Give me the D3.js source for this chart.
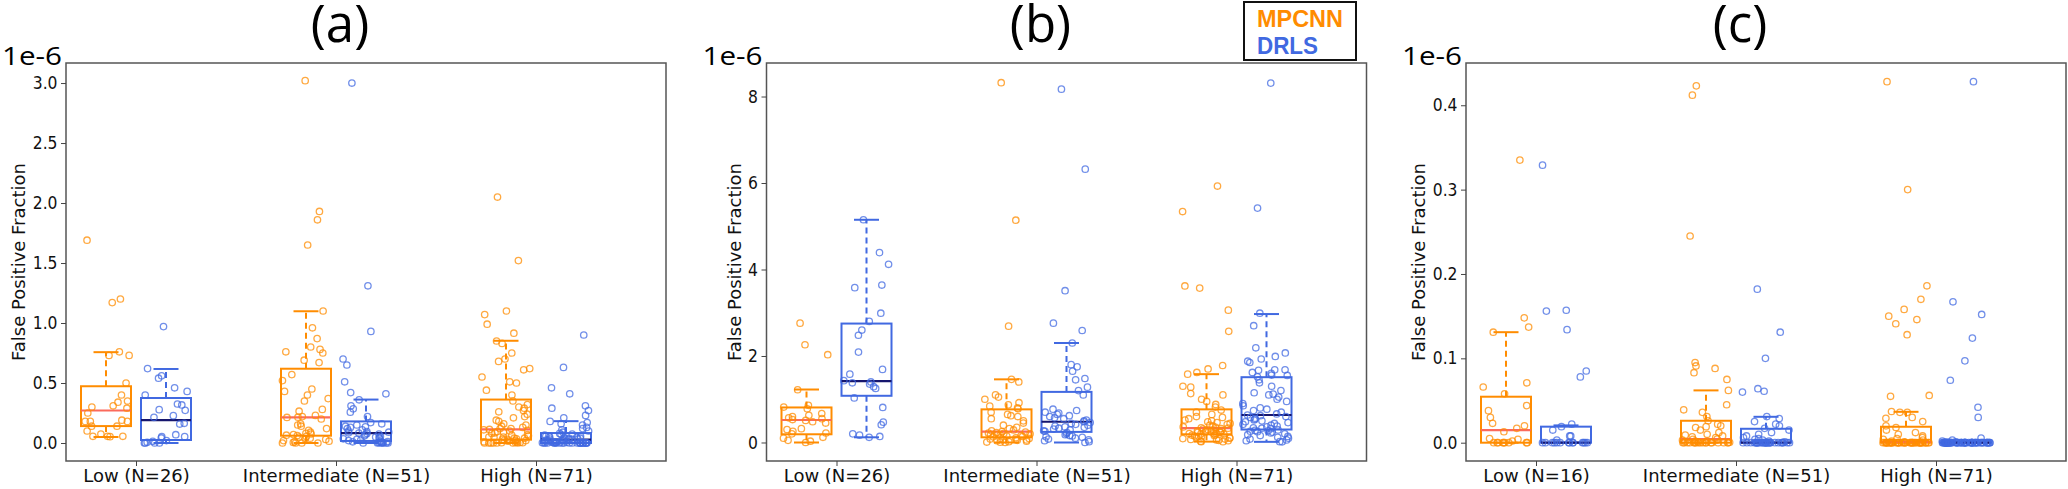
<!DOCTYPE html>
<html><head><meta charset="utf-8">
<script src="https://cdn.jsdelivr.net/npm/d3@7"></script>
<style>body{margin:0;background:#fff}svg{display:block}</style>
</head><body>
<script>
// ---------------- DATA ----------------
const categories = ["Low", "Intermediate", "High"];
const seriesNames = ["MPCNN", "DRLS"];
const panelTitles = ["(a)", "(b)", "(c)"];
const exponentLabel = "1e-6";
const yAxisLabel = "False Positive Fraction";
const xLabelsA = ["Low (N=26)", "Intermediate (N=51)", "High (N=71)"];
const xLabelsB = ["Low (N=26)", "Intermediate (N=51)", "High (N=71)"];
const xLabelsC = ["Low (N=16)", "Intermediate (N=51)", "High (N=71)"];
const yTicksA = [0, 0.5, 1.0, 1.5, 2.0, 2.5, 3.0];
const yTicksB = [0, 2, 4, 6, 8];
const yTicksC = [0, 0.1, 0.2, 0.3, 0.4];
const yDomainA = [-0.15, 3.167];
const yDomainB = [-0.428, 8.775];
const yDomainC = [-0.0217, 0.4501];

// panel (a) values (x 1e-6)
const a_MPCNN_Low = [1.69,1.20,1.17,0.76,0.73,0.73,0.50,0.40,0.35,0.34,0.31,0.30,0.29,0.25,0.19,0.18,0.18,0.18,0.14,0.14,0.10,0.075,0.056,0.056,0.056,0.053];
const a_DRLS_Low = [0.97,0.62,0.56,0.54,0.46,0.43,0.40,0.325,0.317,0.278,0.272,0.228,0.214,0.164,0.158,0.069,0.053,0.053,0.042,0.02,0.014,0.006,0,0,0,0];
const a_MPCNN_Int = [3.02,1.93,1.86,1.65,1.10,0.96,0.87,0.80,0.78,0.76,0.75,0.69,0.67,0.57,0.52,0.45,0.43,0.40,0.37,0.35,0.28,0.265,0.23,0.22,0.215,0.213,0.20,0.16,0.15,0.14,0.12,0.105,0.09,0.08,0.075,0.07,0.065,0.062,0.055,0.05,0.04,0.035,0.03,0.02,0.015,0.01,0.005,0,0,0,0];
const a_DRLS_Int = [3.00,1.31,0.93,0.70,0.65,0.51,0.42,0.41,0.36,0.31,0.285,0.257,0.221,0.17,0.16,0.15,0.14,0.135,0.13,0.12,0.11,0.10,0.095,0.09,0.085,0.083,0.08,0.075,0.07,0.06,0.055,0.05,0.045,0.04,0.035,0.03,0.025,0.02,0.015,0.012,0.01,0.008,0.005,0.003,0.002,0,0,0,0,0,0];
const a_MPCNN_High = [2.05,1.52,1.10,1.07,0.99,0.915,0.85,0.83,0.75,0.70,0.68,0.62,0.61,0.55,0.51,0.50,0.44,0.40,0.35,0.32,0.30,0.29,0.27,0.26,0.24,0.22,0.21,0.19,0.18,0.16,0.15,0.14,0.13,0.12,0.12,0.113,0.11,0.105,0.10,0.095,0.09,0.085,0.08,0.07,0.065,0.06,0.05,0.05,0.045,0.04,0.04,0.035,0.03,0.03,0.025,0.02,0.02,0.015,0.01,0.01,0.005,0.004,0.003,0.002,0,0,0,0,0,0,0];
const a_DRLS_High = [0.90,0.63,0.46,0.41,0.31,0.29,0.27,0.23,0.21,0.18,0.17,0.16,0.15,0.13,0.12,0.11,0.10,0.09,0.08,0.075,0.07,0.065,0.06,0.058,0.055,0.05,0.048,0.045,0.04,0.038,0.035,0.033,0.032,0.03,0.029,0.028,0.025,0.022,0.02,0.018,0.015,0.012,0.01,0.008,0.006,0.005,0.004,0.003,0.002,0.001,0,0,0,0,0,0,0,0,0,0,0,0,0,0,0,0,0,0,0,0,0];

// panel (b) values
const b_MPCNN_Low = [2.76,2.26,2.03,1.22,0.86,0.82,0.78,0.67,0.63,0.60,0.57,0.55,0.53,0.51,0.48,0.45,0.32,0.30,0.26,0.22,0.20,0.12,0.10,0.05,0.03,0.0];
const b_DRLS_Low = [5.15,4.39,4.12,3.64,3.58,2.99,2.80,2.60,2.48,2.09,1.69,1.58,1.43,1.40,1.38,1.35,1.29,1.25,1.03,0.81,0.47,0.41,0.20,0.17,0.14,0.12];
const b_MPCNN_Int = [8.32,5.14,2.69,1.46,1.40,1.10,1.05,1.00,0.92,0.87,0.84,0.80,0.78,0.70,0.65,0.62,0.60,0.55,0.50,0.45,0.40,0.35,0.32,0.29,0.27,0.253,0.24,0.23,0.22,0.21,0.20,0.19,0.18,0.17,0.16,0.15,0.14,0.13,0.11,0.10,0.09,0.08,0.07,0.06,0.05,0.04,0.03,0.02,0.01,0.005,0];
const b_DRLS_Int = [8.17,6.32,3.51,2.76,2.59,2.30,1.80,1.75,1.65,1.48,1.45,1.28,1.20,1.10,0.77,0.74,0.70,0.68,0.65,0.62,0.60,0.57,0.55,0.52,0.50,0.48,0.46,0.44,0.42,0.40,0.38,0.36,0.35,0.33,0.31,0.29,0.27,0.26,0.23,0.20,0.18,0.16,0.15,0.13,0.12,0.10,0.08,0.06,0.04,0.02,0.0];
const b_MPCNN_High = [5.93,5.34,3.62,3.57,3.06,2.57,1.78,1.70,1.62,1.58,1.30,1.28,1.13,1.10,1.00,0.95,0.88,0.82,0.75,0.70,0.65,0.60,0.58,0.55,0.52,0.50,0.48,0.46,0.44,0.42,0.40,0.38,0.36,0.35,0.34,0.33,0.32,0.31,0.30,0.29,0.28,0.27,0.26,0.25,0.245,0.24,0.235,0.23,0.22,0.21,0.205,0.20,0.195,0.18,0.17,0.16,0.15,0.14,0.13,0.12,0.11,0.10,0.09,0.08,0.07,0.06,0.05,0.04,0.03,0.02,0.02];
const b_DRLS_High = [8.31,5.42,2.99,2.70,2.19,2.07,1.99,1.93,1.88,1.85,1.68,1.68,1.67,1.62,1.60,1.56,1.55,1.52,1.45,1.38,1.30,1.20,1.15,1.12,1.10,1.05,1.00,0.95,0.90,0.85,0.80,0.77,0.74,0.70,0.66,0.636,0.62,0.60,0.58,0.56,0.54,0.52,0.50,0.48,0.46,0.44,0.42,0.40,0.38,0.36,0.34,0.33,0.32,0.29,0.28,0.27,0.26,0.25,0.24,0.22,0.20,0.18,0.16,0.14,0.12,0.10,0.08,0.06,0.04,0.02,0.015];

// panel (c) values
const c_MPCNN_Low = [0.335,0.148,0.137,0.131,0.071,0.066,0.058,0.044,0.038,0.030,0.023,0.020,0.017,0.013,0.005,0.004,0.002,0,0,0,0,0,0,0,0,0];
const c_DRLS_Low = [0.329,0.157,0.156,0.134,0.085,0.078,0.022,0.019,0.015,0.008,0.008,0.003,0,0,0,0,0,0,0,0,0,0,0,0,0,0];
const c_MPCNN_Int = [0.423,0.412,0.245,0.095,0.091,0.088,0.083,0.075,0.062,0.045,0.039,0.036,0.031,0.026,0.022,0.020,0.019,0.018,0.015,0.012,0.010,0.009,0.008,0.007,0.006,0.0043,0.004,0.003,0.002,0.002,0.001,0.001,0.0005,0,0,0,0,0,0,0,0,0,0,0,0,0,0,0,0,0,0];
const c_DRLS_Int = [0.182,0.131,0.100,0.064,0.061,0.060,0.031,0.0287,0.025,0.022,0.020,0.017,0.015,0.012,0.010,0.008,0.006,0.005,0.004,0.003,0.002,0.001,0,0,0,0,0,0,0,0,0,0,0,0,0,0,0,0,0,0,0,0,0,0,0,0,0,0,0,0,0];
const c_MPCNN_High = [0.428,0.300,0.186,0.170,0.158,0.150,0.146,0.141,0.128,0.056,0.055,0.037,0.036,0.036,0.030,0.029,0.025,0.020,0.018,0.015,0.012,0.010,0.008,0.006,0.005,0.004,0.003,0.002,0.001,0,0,0,0,0,0,0,0,0,0,0,0,0,0,0,0,0,0,0,0,0,0,0,0,0,0,0,0,0,0,0,0,0,0,0,0,0,0,0,0,0,0];
const c_DRLS_High = [0.428,0.167,0.152,0.124,0.097,0.074,0.042,0.030,0.0055,0.003,0.002,0.001,0,0,0,0,0,0,0,0,0,0,0,0,0,0,0,0,0,0,0,0,0,0,0,0,0,0,0,0,0,0,0,0,0,0,0,0,0,0,0,0,0,0,0,0,0,0,0,0,0,0,0,0,0,0,0,0,0,0,0];

// box statistics per category: [lower whisker, Q1, median, Q3, upper whisker]
const a_MPCNN_box = [[0.05,0.141,0.271,0.473,0.757],[0,0.061,0.213,0.619,1.098],[0,0.028,0.113,0.362,0.852]];
const a_DRLS_box  = [[0,0.025,0.19,0.375,0.617],[0,0.017,0.083,0.18,0.362],[0,0,0.028,0.083,0.182]];
const b_MPCNN_box = [[0,0.19,0.52,0.81,1.225],[0,0.12,0.253,0.766,1.46],[0.02,0.19,0.33,0.766,1.58]];
const b_DRLS_box  = [[0.12,1.08,1.42,2.75,5.15],[0,0.245,0.48,1.17,2.30],[0.015,0.30,0.636,1.51,2.97]];
const c_MPCNN_box = [[0,0,0.0149,0.0545,0.131],[0,0,0.0043,0.026,0.062],[0,0,0.0008,0.0189,0.0366]];
const c_DRLS_box  = [[0,0,0,0.019,0.0205],[0,0,0,0.0165,0.0307],[0,0,0,0.0005,0.0008]];

// ---------------- DRAWING ----------------
const W = 2068, H = 489;
const frameTop = 63, frameBottom = 461, frameW = 600;
const colors = {MPCNN: "#ff8c00", DRLS: "#4169e1"};
const medianColors = {MPCNN: "#fb6a5c", DRLS: "#16166e"};
const offsets = {MPCNN: -0.15, DRLS: 0.15};
const boxW = 0.25, capW = 0.125, jitterW = 0.12;

const panels = [
  {left: 66, title: panelTitles[0], xLabels: xLabelsA, yTicks: yTicksA, yDomain: yDomainA, fmt: d3.format(".1f"),
   values: {MPCNN: [a_MPCNN_Low, a_MPCNN_Int, a_MPCNN_High], DRLS: [a_DRLS_Low, a_DRLS_Int, a_DRLS_High]},
   boxes: {MPCNN: a_MPCNN_box, DRLS: a_DRLS_box}},
  {left: 766.5, title: panelTitles[1], xLabels: xLabelsB, yTicks: yTicksB, yDomain: yDomainB, fmt: d3.format("d"),
   values: {MPCNN: [b_MPCNN_Low, b_MPCNN_Int, b_MPCNN_High], DRLS: [b_DRLS_Low, b_DRLS_Int, b_DRLS_High]},
   boxes: {MPCNN: b_MPCNN_box, DRLS: b_DRLS_box}},
  {left: 1466, title: panelTitles[2], xLabels: xLabelsC, yTicks: yTicksC, yDomain: yDomainC, fmt: d3.format(".1f"),
   values: {MPCNN: [c_MPCNN_Low, c_MPCNN_Int, c_MPCNN_High], DRLS: [c_DRLS_Low, c_DRLS_Int, c_DRLS_High]},
   boxes: {MPCNN: c_MPCNN_box, DRLS: c_DRLS_box}}
];

// deterministic jitter (layout only, not data)
function jit(i, k) {
  const s = Math.sin(i * 127.1 + k * 311.7) * 43758.5453;
  return (s - Math.floor(s)) * 2 - 1;
}

const svg = d3.select("body").append("svg").attr("width", W).attr("height", H);

panels.forEach((p, pi) => {
  const g = svg.append("g").attr("transform", `translate(${p.left},0)`);
  const x = d3.scaleLinear().domain([-0.35, 2.65]).range([0, frameW]);
  const y = d3.scaleLinear().domain(p.yDomain).range([frameBottom, frameTop]);

  g.append("rect").attr("x", 0).attr("y", frameTop).attr("width", frameW)
    .attr("height", frameBottom - frameTop).attr("fill", "#fff");

  const plot = g.append("g");
  seriesNames.forEach((s, si) => {
    categories.forEach((c, ci) => {
      const b = p.boxes[s][ci];
      const cx = ci + offsets[s];
      const col = colors[s];
      const bg = plot.append("g").attr("fill", "none").attr("stroke", col).attr("stroke-width", 2);
      bg.append("line").attr("x1", x(cx)).attr("x2", x(cx)).attr("y1", y(b[3])).attr("y2", y(b[4])).attr("stroke-dasharray", "6,4");
      bg.append("line").attr("x1", x(cx)).attr("x2", x(cx)).attr("y1", y(b[1])).attr("y2", y(b[0])).attr("stroke-dasharray", "6,4");
      [b[0], b[4]].forEach(v => bg.append("line").attr("x1", x(cx - capW / 2)).attr("x2", x(cx + capW / 2)).attr("y1", y(v)).attr("y2", y(v)));
      bg.append("rect").attr("x", x(cx - boxW / 2)).attr("width", x(cx + boxW / 2) - x(cx - boxW / 2))
        .attr("y", y(b[3])).attr("height", Math.max(0.5, y(b[1]) - y(b[3])));
      bg.append("line").attr("x1", x(cx - boxW / 2)).attr("x2", x(cx + boxW / 2)).attr("y1", y(b[2])).attr("y2", y(b[2]))
        .attr("stroke", medianColors[s]).attr("stroke-width", 2.2);
    });
  });
  seriesNames.forEach((s, si) => {
    categories.forEach((c, ci) => {
      const cx = ci + offsets[s];
      plot.append("g").selectAll("circle").data(p.values[s][ci]).join("circle")
        .attr("cx", (d, i) => x(cx + jitterW * jit(i + 1, pi * 10 + si * 3 + ci + 1)))
        .attr("cy", d => y(d))
        .attr("r", 3.2)
        .attr("fill", "none")
        .attr("stroke", colors[s])
        .attr("stroke-opacity", 0.75)
        .attr("stroke-width", 1.3);
    });
  });

  g.append("rect").attr("x", 0).attr("y", frameTop).attr("width", frameW)
    .attr("height", frameBottom - frameTop).attr("fill", "none").attr("stroke", "#555").attr("stroke-width", 1.5);

  const yAx = g.append("g").call(d3.axisLeft(y).tickValues(p.yTicks).tickFormat(p.fmt).tickSize(5).tickPadding(3.5));
  yAx.select(".domain").remove();
  yAx.selectAll(".tick line").attr("stroke", "#444");
  yAx.selectAll("text").attr("font-family", "DejaVu Sans").attr("font-size", 17.5).attr("fill", "#111")
    .each(function () {
      const L = this.getComputedTextLength();
      d3.select(this).attr("textLength", L * 0.89).attr("lengthAdjust", "spacingAndGlyphs");
    });
  let minX = 0;
  yAx.selectAll("text").each(function () { const bb = this.getBBox(); minX = Math.min(minX, bb.x); });

  const xAx = g.append("g").attr("transform", `translate(0,${frameBottom})`)
    .call(d3.axisBottom(x).tickValues([0, 1, 2]).tickFormat(i => p.xLabels[i]).tickSize(5).tickPadding(3));
  xAx.select(".domain").remove();
  xAx.selectAll(".tick line").attr("stroke", "#444");
  xAx.selectAll("text").attr("font-family", "DejaVu Sans").attr("font-size", 18).attr("fill", "#111");

  g.append("text").attr("transform", `translate(${minX - 7.5},${(frameTop + frameBottom) / 2}) rotate(-90)`)
    .attr("text-anchor", "middle").attr("font-family", "DejaVu Sans").attr("font-size", 18).attr("fill", "#111")
    .text(yAxisLabel);

  g.append("text").attr("x", -4).attr("y", 65).attr("text-anchor", "end")
    .attr("font-family", "Open Sans").attr("font-size", 25).attr("fill", "#000")
    .attr("textLength", 60).attr("lengthAdjust", "spacingAndGlyphs").text(exponentLabel);

  g.append("text").attr("x", x(1) + 4).attr("y", 42).attr("text-anchor", "middle")
    .attr("font-family", "Open Sans").attr("font-size", 51).attr("fill", "#000").text(p.title);
});

// legend
const lg = svg.append("g");
lg.append("rect").attr("x", 1244).attr("y", 2).attr("width", 112).attr("height", 58)
  .attr("fill", "#fff").attr("stroke", "#111").attr("stroke-width", 2);
lg.append("text").attr("x", 1257).attr("y", 26.7).attr("font-family", "Liberation Sans").attr("font-weight", "bold")
  .attr("font-size", 24).attr("fill", colors.MPCNN).attr("textLength", 86).attr("lengthAdjust", "spacingAndGlyphs").text(seriesNames[0]);
lg.append("text").attr("x", 1257).attr("y", 54).attr("font-family", "Liberation Sans").attr("font-weight", "bold")
  .attr("font-size", 24).attr("fill", colors.DRLS).attr("textLength", 61).attr("lengthAdjust", "spacingAndGlyphs").text(seriesNames[1]);
</script>
</body></html>
